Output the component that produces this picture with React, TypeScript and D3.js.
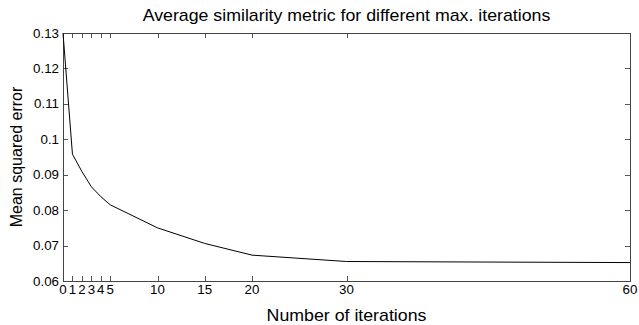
import { useEffect, useRef } from 'react';
import * as d3 from 'd3';

const iterations = [0, 1, 2, 3, 4, 5, 10, 15, 20, 30, 60];
const mse = [0.13, 0.0958, 0.0909, 0.0866, 0.0838, 0.0815, 0.075, 0.0706, 0.0673, 0.0655, 0.0652];
const xTicks = [0, 1, 2, 3, 4, 5, 10, 15, 20, 30, 60];
const yTicks = [0.06, 0.07, 0.08, 0.09, 0.1, 0.11, 0.12, 0.13];

const App = () => {
  const svgRef = useRef<SVGSVGElement>(null);

  useEffect(() => {
    const width = 639;
    const height = 325;
    const left = 63, right = 630, top = 33, bottom = 281;
    const tickLen = 5;
    const font = 'Liberation Sans, Arial, sans-serif';
    // the reference text is a little wider than plain Arial
    const stretch = 1.11;

    const svg = d3.select(svgRef.current);
    svg.selectAll('*').remove();
    svg.attr('width', width).attr('height', height);

    svg.append('rect').attr('width', width).attr('height', height).attr('fill', '#fff');

    const x = d3.scaleLinear().domain([0, 60]).range([left, right]);
    const y = d3.scaleLinear().domain([0.06, 0.13]).range([bottom, top]);

    const addText = (tx: number, ty: number, str: string, size: number, anchor: string) =>
      svg.append('text')
        .attr('transform', `translate(${tx},${ty}) scale(${stretch},1)`)
        .attr('text-anchor', anchor)
        .style('font-family', font)
        .style('font-size', `${size}px`)
        .style('fill', '#000')
        .text(str);

    // ticks (inward, on all four sides like matlab)
    const g = svg.append('g').attr('stroke', '#555').attr('stroke-width', 1);
    xTicks.forEach(t => {
      const px = Math.round(x(t)) + 0.5;
      g.append('line').attr('x1', px).attr('x2', px).attr('y1', bottom).attr('y2', bottom - tickLen);
      g.append('line').attr('x1', px).attr('x2', px).attr('y1', top).attr('y2', top + tickLen);
    });
    yTicks.forEach(t => {
      const py = Math.round(y(t)) + 0.5;
      g.append('line').attr('x1', left).attr('x2', left + tickLen).attr('y1', py).attr('y2', py);
      g.append('line').attr('x1', right).attr('x2', right - tickLen).attr('y1', py).attr('y2', py);
    });

    svg.append('rect')
      .attr('x', left + 0.5).attr('y', top + 0.5)
      .attr('width', right - left).attr('height', bottom - top)
      .attr('fill', 'none').attr('stroke', '#444').attr('stroke-width', 1);

    const line = d3.line<number>()
      .x((_, i) => x(iterations[i]))
      .y(d => y(d));

    svg.append('path')
      .datum(mse)
      .attr('d', line)
      .attr('fill', 'none')
      .attr('stroke', '#000')
      .attr('stroke-width', 1);

    xTicks.forEach(t => addText(x(t), bottom + 12.5, String(t), 12, 'middle'));
    yTicks.forEach(t => addText(left - 4, y(t) + 4.5, String(+t.toFixed(2)), 12, 'end'));

    addText((left + right) / 2, 21, 'Average similarity metric for different max. iterations', 16, 'middle');
    addText((left + right) / 2, 321, 'Number of iterations', 16, 'middle');

    svg.append('text')
      .attr('transform', `translate(21.5,${(top + bottom) / 2}) rotate(-90)`)
      .attr('text-anchor', 'middle')
      .style('font-family', font)
      .style('font-size', '16px')
      .text('Mean squared error');
  }, []);

  return <svg ref={svgRef} style={{ position: 'absolute', left: 0, top: 0, display: 'block' }} />;
};

export default App;
